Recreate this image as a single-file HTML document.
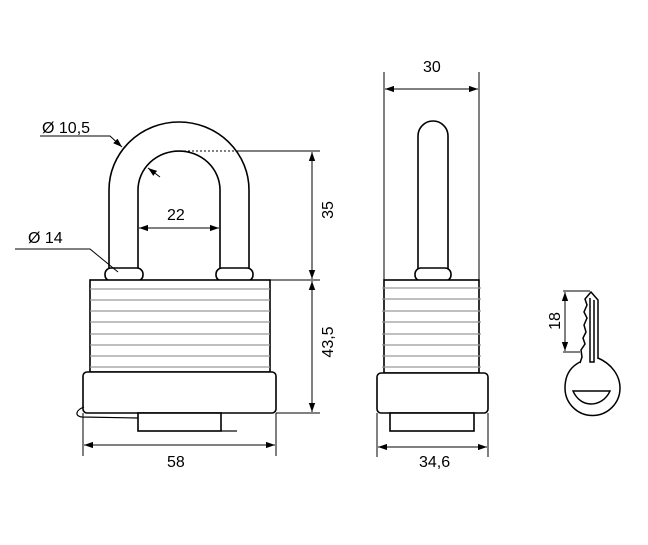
<!DOCTYPE html>
<html><head><style>
body{margin:0;background:#fff;}
svg{display:block;}
text{font-family:"Liberation Sans",Arial,sans-serif;font-size:16px;fill:#000;}
</style></head><body>
<svg width="648" height="545" viewBox="0 0 648 545" xmlns="http://www.w3.org/2000/svg">
<defs>
<marker id="a" viewBox="0 0 10 10" refX="10" refY="5" markerWidth="9" markerHeight="9" orient="auto-start-reverse" markerUnits="userSpaceOnUse"><path d="M0,1.5 L10,5 L0,8.5 Z" fill="#000"/></marker>
</defs>
<g fill="none" stroke="#000" stroke-width="1.6">
<path d="M109,270 L109,190 A70,68 0 0 1 249,190 L249,270" fill="#fff"/>
<path d="M138,270 L138,190 A41,39 0 0 1 220,190 L220,270"/>
<rect x="105" y="268" width="38" height="13" rx="6" fill="#fff"/>
<rect x="216" y="268" width="37" height="13" rx="6" fill="#fff"/>
<rect x="90" y="280" width="180" height="92" fill="#fff"/>
<rect x="83" y="372" width="193" height="41" rx="4" fill="#fff"/>
<rect x="138" y="413" width="83" height="18" fill="#fff"/>
<path d="M84,407 C76,410 74,416 82,417 L138,418" stroke-width="1.2"/>
<path d="M221,431 L237,431" stroke-width="1.2"/>
</g>
<g stroke="#999" stroke-width="1.3">
<line x1="90" y1="289" x2="270" y2="289"/><line x1="90" y1="300" x2="270" y2="300"/><line x1="90" y1="311" x2="270" y2="311"/><line x1="90" y1="322" x2="270" y2="322"/><line x1="90" y1="334" x2="270" y2="334"/><line x1="90" y1="345" x2="270" y2="345"/><line x1="90" y1="356" x2="270" y2="356"/><line x1="90" y1="367" x2="270" y2="367"/>
</g>
<g stroke="#000" stroke-width="1" fill="none">
<line x1="180" y1="151" x2="238" y2="151" stroke-dasharray="2,2"/>
<line x1="238" y1="151" x2="320" y2="151"/>
<line x1="270" y1="280" x2="320" y2="280"/>
<line x1="276" y1="413" x2="320" y2="413"/>
<line x1="312" y1="152" x2="312" y2="279" marker-start="url(#a)" marker-end="url(#a)"/>
<line x1="312" y1="281" x2="312" y2="412" marker-start="url(#a)" marker-end="url(#a)"/>
<line x1="139" y1="228" x2="219" y2="228" marker-start="url(#a)" marker-end="url(#a)"/>
<line x1="83" y1="413" x2="83" y2="456"/><line x1="276" y1="413" x2="276" y2="456"/>
<line x1="84" y1="445" x2="275" y2="445" marker-start="url(#a)" marker-end="url(#a)"/>
<path d="M40,136 L110,136 L122,147" marker-end="url(#a)"/>
<line x1="160" y1="177" x2="148" y2="168" marker-end="url(#a)"/>
<path d="M15,249 L90,249 L118,272"/>
<line x1="384" y1="72" x2="384" y2="280"/><line x1="479" y1="72" x2="479" y2="280"/>
<line x1="385" y1="89" x2="478" y2="89" marker-start="url(#a)" marker-end="url(#a)"/>
<line x1="377" y1="413" x2="377" y2="457"/><line x1="488" y1="413" x2="488" y2="457"/>
<line x1="378" y1="447" x2="487" y2="447" marker-start="url(#a)" marker-end="url(#a)"/>
<line x1="563" y1="291" x2="590" y2="291"/><line x1="563" y1="352" x2="580" y2="352"/>
<line x1="565" y1="292" x2="565" y2="351" marker-start="url(#a)" marker-end="url(#a)"/>
</g>
<g fill="none" stroke="#000" stroke-width="1.6">
<path d="M418,270 L418,136 A15,15 0 0 1 448,136 L448,270" fill="#fff"/>
<rect x="415" y="268" width="36" height="13" rx="6" fill="#fff"/>
<rect x="384" y="280" width="95" height="93" fill="#fff"/>
<rect x="377" y="373" width="111" height="40" rx="4" fill="#fff"/>
<rect x="390" y="413" width="84" height="18" fill="#fff"/>
</g>
<g stroke="#999" stroke-width="1.3">
<line x1="382" y1="288" x2="481" y2="288"/><line x1="382" y1="299" x2="481" y2="299"/><line x1="382" y1="311" x2="481" y2="311"/><line x1="382" y1="322" x2="481" y2="322"/><line x1="382" y1="334" x2="481" y2="334"/><line x1="382" y1="345" x2="481" y2="345"/><line x1="382" y1="356" x2="481" y2="356"/><line x1="382" y1="367" x2="481" y2="367"/>
</g>
<!-- key -->
<g fill="none" stroke="#000" stroke-width="1.5">
<path d="M580,362 C568,368 565,378 565,388 A27,27 0 1 0 620,388 C620,376 612,364 598,358" fill="#fff"/>
<path d="M580,363 L582,357 L581,350 L585,344 L583,338 L586,332 L584,325 L587,318 L584,312 L587,305 L585,299 L591,292 L598,300 L598,359" fill="#fff"/>
<path d="M590,298 L590,362 L594,362 L594,300"/>
<path d="M573,391 L610,391 C606,400 598,404 591,404 C584,404 577,400 573,391 Z"/>
</g>
<text x="42" y="133">Ø 10,5</text>
<text x="28" y="243">Ø 14</text>
<text x="167" y="220">22</text>
<text x="167" y="467">58</text>
<text x="423" y="72">30</text>
<text x="419" y="467">34,6</text>
<text transform="translate(333,210) rotate(-90)" text-anchor="middle">35</text>
<text transform="translate(333,342) rotate(-90)" text-anchor="middle">43,5</text>
<text transform="translate(560,321) rotate(-90)" text-anchor="middle">18</text>
</svg>
</body></html>
